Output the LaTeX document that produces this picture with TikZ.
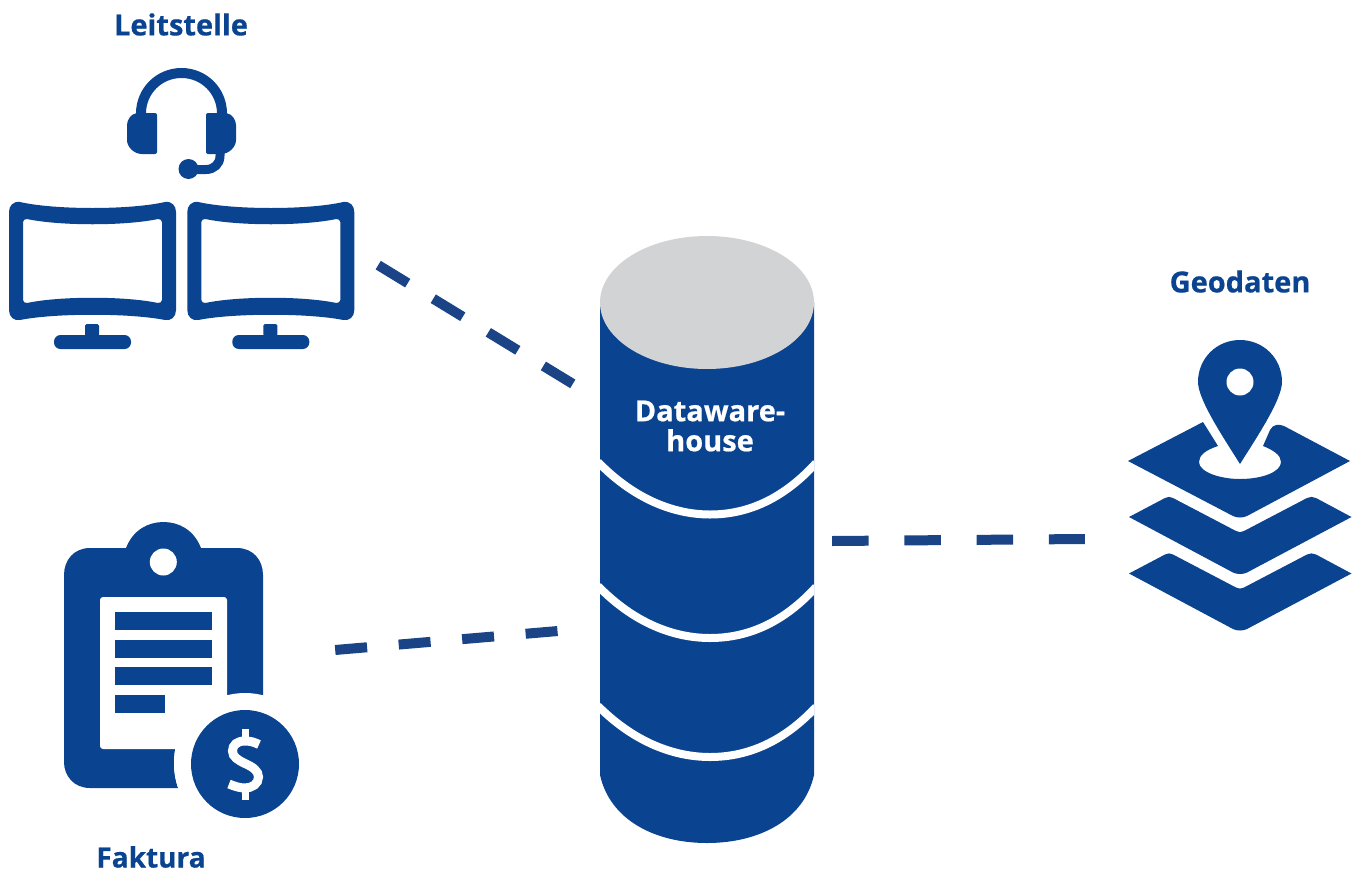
\documentclass[tikz,border=0pt]{standalone}
\usepackage{fontspec}
\setmainfont[BoldFeatures={FakeBold=0.6}]{Open Sans}
\definecolor{ink}{HTML}{0A4390}
\definecolor{lid}{HTML}{D1D3D4}
\definecolor{dashblue}{HTML}{1B4487}
\tikzset{
  caption/.style={text=ink,font=\bfseries\fontsize{29}{30}\selectfont,inner sep=0pt,anchor=center},
  link/.style={draw=dashblue,line width=10pt},
  band/.style={draw=white,line width=8pt},
  anchorpt/.style={inner sep=0pt,minimum size=0pt},
}
\begin{document}
\begin{tikzpicture}[x=1pt,y=-1pt]
\useasboundingbox (0,0) rectangle (1355,873);
% Headset
\draw[ink,line width=10pt] (141,118) -- (141,113.5) .. controls (141,91) and (159,73) .. (181.5,73) .. controls (204,73) and (222,91) .. (222,113.5) -- (222,118);
\fill[ink,rounded corners=2pt] (157,113) -- (157,154) -- (144,154) .. controls (134,154) and (127,147) .. (127,138) -- (127,127) .. controls (127,120) and (131,114) .. (138,113) -- cycle;
\fill[ink,rounded corners=2pt] (206,113) -- (206,154) -- (219,154) .. controls (229,154) and (236,147) .. (236,138) -- (236,127) .. controls (236,120) and (232,114) .. (225,113) -- cycle;
\draw[ink,line width=9pt] (220,150) -- (220,156) .. controls (220,164) and (214,169.5) .. (206,169.5) -- (190,169.5);
\fill[ink] (188.5,169) circle[radius=10];
% Monitors
\foreach \dx in {0,178.3}{
\begin{scope}[xshift=\dx pt]
\fill[ink,even odd rule] (20,202) .. controls (55,210) and (130,210) .. (165,202)
   .. controls (172,201) and (176,206) .. (176,212) -- (176,310)
   .. controls (176,317) and (171,321) .. (165,320)
   .. controls (130,313) and (55,313) .. (20,320)
   .. controls (14,321) and (9,317) .. (9,310) -- (9,212)
   .. controls (9,206) and (13,201) .. (20,202) -- cycle
   (27,219) .. controls (60,226) and (125,226) .. (158,219)
   .. controls (160,219) and (162,220) .. (162,222) -- (162,300)
   .. controls (162,302) and (160,303) .. (158,303)
   .. controls (125,296) and (60,296) .. (27,303)
   .. controls (25,303) and (23,302) .. (23,300) -- (23,222)
   .. controls (23,220) and (25,219) .. (27,219) -- cycle;
\fill[ink,rounded corners=1.5pt] (85,336) -- (85,324) -- (99,324) -- (99,336) -- cycle;
\fill[ink,rounded corners=6.5pt] (54,335) rectangle (131,349);
\end{scope}}
\node[anchorpt] (monitors) at (378,265) {};
% Clipboard
\fill[ink] (90,548) -- (126,548) .. controls (133,530) and (148,522) .. (163.5,522)
   .. controls (179,522) and (194,530) .. (201,548) -- (237,548)
   .. controls (253,548) and (263,560) .. (263,575) -- (263,696)
   -- (227,696) -- (227,749) -- (175,749)
   .. controls (173,762) and (174,776) .. (178,788) -- (90,788)
   .. controls (74,788) and (64,776) .. (64,762) -- (64,575)
   .. controls (64,560) and (74,548) .. (90,548) -- cycle;
\fill[white] (163.3,562) circle[radius=13.5];
\fill[white,rounded corners=3pt] (100,597) rectangle (227,749);
\fill[ink] (115,612) rectangle (212,630);
\fill[ink] (115,639.5) rectangle (212,658);
\fill[ink] (115,667) rectangle (212,685);
\fill[ink] (115,695) rectangle (165,713);
\fill[white] (245,764) circle[radius=71];
\fill[ink] (245,764) circle[radius=54];
% Dollar icon
\draw[white,line width=9pt] (259,744.5) .. controls (254,742) and (250,741) .. (245,741)
   .. controls (237,741) and (232.5,745) .. (232.5,751)
   .. controls (232.5,757) and (238,760) .. (245,763.5)
   .. controls (253,767) and (258.5,771) .. (258.5,777)
   .. controls (258.5,784) and (252,788) .. (245,788)
   .. controls (240,788) and (235,786.5) .. (229,784);
\fill[white] (242,729) rectangle (248.5,740);
\fill[white] (242,789) rectangle (248.5,799.5);
% Cylinder
\begin{scope}
\path[clip] (600,302) -- (600,775) .. controls (610,820) and (655,843) .. (707,843)
   .. controls (759,843) and (804,820) .. (814,775) -- (814,302) -- cycle;
\fill[ink] (590,290) rectangle (824,850);
\draw[band] (598,462) .. controls (635,500) and (675,514.5) .. (710,514.5) .. controls (750,514.5) and (785,497) .. (816,463);
\draw[band] (598,586) .. controls (635,624) and (675,638) .. (710,638) .. controls (750,638) and (785,621) .. (816,587);
\draw[band] (598,706) .. controls (635,743) and (675,757) .. (710,757) .. controls (750,757) and (785,740) .. (816,707);
\end{scope}
\fill[lid] (707,302.5) ellipse[x radius=107,y radius=66.5];
\node[anchorpt] (dwA) at (573,384) {};
\node[anchorpt] (dwB) at (558,631) {};
\node[anchorpt] (dwC) at (832,541) {};
\node[text=white,font=\bfseries\fontsize{29}{30}\selectfont,align=center,inner sep=0pt] (dw) at (710,426) {Dataware-\\[0pt]house};
% Geo
\fill[ink] (1240,464) .. controls (1225,440) and (1198,400) .. (1198,382)
   .. controls (1198,358) and (1217,340) .. (1240,340)
   .. controls (1263,340) and (1282,358) .. (1282,382)
   .. controls (1282,400) and (1255,440) .. (1240,464) -- cycle;
\fill[white] (1240,382) circle[radius=13.5];
\fill[ink] (1128,461) -- (1203,422) -- (1218,446)
   .. controls (1206,450) and (1199,455) .. (1199,462)
   .. controls (1199,472) and (1220,479) .. (1240,479)
   .. controls (1262,479) and (1281,472) .. (1281,462)
   .. controls (1281,455) and (1273,450) .. (1263,446)
   -- (1270,430) .. controls (1273,424) and (1279,424) .. (1284,426)
   -- (1350,461) -- (1247,516) .. controls (1243,518) and (1237,518) .. (1233,516) -- cycle;
\foreach \dy in {0,56.5}{
\fill[ink,yshift=-\dy pt] (1129,517) -- (1165,498) .. controls (1168,496.5) and (1170,496.5) .. (1173,498)
   -- (1236,531) .. controls (1239,532.5) and (1241,532.5) .. (1244,531)
   -- (1307,498) .. controls (1310,496.5) and (1313,496.5) .. (1316,498)
   -- (1351.5,517) -- (1247,572.5) .. controls (1243,574.5) and (1237,574.5) .. (1233,572.5) -- cycle;
}
\node[anchorpt] (geo) at (1085,539) {};
\node[anchorpt] (bill) at (335,650) {};
% Connectors
\draw[link,dash pattern=on 34.6pt off 29.9pt] (monitors) -- (dwA);
\draw[link,dash pattern=on 32pt off 31.7pt] (bill) -- (dwB);
\draw[link,dash pattern=on 36.5pt off 35.7pt] (dwC) -- (geo);
% Labels
\node[caption] (leit) at (181,24.5) {Leitstelle};
\node[caption,font=\bfseries\fontsize{28}{30}\selectfont] (fakt) at (151,857) {Faktura};
\node[caption] (geot) at (1240,281.5) {Geodaten};
\end{tikzpicture}
\end{document}
